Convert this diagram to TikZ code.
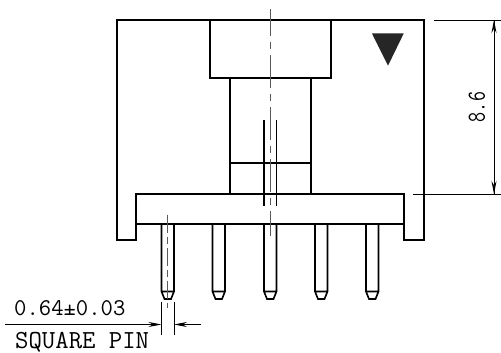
\documentclass[tikz,border=0pt]{standalone}
\usepackage{amsmath}
\usepackage{xcolor}
\usepackage{tikz}
\usetikzlibrary{arrows.meta}
\tikzstyle{body} = [line width=1.8pt,line join=miter]
\tikzstyle{inner} = [line width=1.3pt]
\tikzstyle{pin} = [line width=1.6pt]
\tikzstyle{center} = [line width=1pt,black!65,dash pattern=on 33pt off 6pt on 7pt off 6pt,dash phase=6pt]
\tikzstyle{dim} = [line width=0.9pt]
\tikzstyle{arrow} = [line width=0.9pt,-{Stealth[length=13pt,width=5pt]}]
\tikzstyle{label} = [inner sep=0pt,anchor=base west]

\begin{document}
\begin{tikzpicture}[x=1pt,y=-1pt]
			\useasboundingbox (0,0) rectangle (501,353);
			
			% Housing:
			\draw [body] (136,194) -- (136,240) -- (117,240) -- (117,20) -- (424,20) -- (424,240) -- (404,240) -- (404,194) -- cycle;
			\draw [body] (136,224) -- (404,224);
			
			% Top block and neck:
			\draw [body] (210,20) -- (210,78) -- (331,78) -- (331,20);
			\draw [body] (230,78) -- (230,194);
			\draw [body] (311,78) -- (311,194);
			\draw [inner] (230,163) -- (311,163);
			\draw [body] (264,120) -- (264,206);
			\draw [body] (276.5,120) -- (276.5,206);
			
			% Marker:
			\fill [black!85] (372,33.5) -- (403.7,33.5) -- (388,65.7) -- cycle;
			
			% Pins:
			\draw [pin] (161.5,224) -- (161.5,291.5) -- (164.5,299) -- (171,299) -- (174,291.5) -- (174,224) (161.5,291.5) -- (174,291.5);
			\draw [pin] (212.5,224) -- (212.5,291.5) -- (215.5,299) -- (222,299) -- (225,291.5) -- (225,224) (212.5,291.5) -- (225,291.5);
			\draw [pin] (264,224) -- (264,291.5) -- (267,299) -- (273.5,299) -- (276.5,291.5) -- (276.5,224) (264,291.5) -- (276.5,291.5);
			\draw [pin] (315,224) -- (315,291.5) -- (318,299) -- (324.5,299) -- (327.5,291.5) -- (327.5,224) (315,291.5) -- (327.5,291.5);
			\draw [pin] (366,224) -- (366,291.5) -- (369,299) -- (375.5,299) -- (378.5,291.5) -- (378.5,224) (366,291.5) -- (378.5,291.5);
			
			% Center lines:
			\draw [center] (270.2,9) -- (270.2,236);
			\draw [center,dash pattern=on 18pt off 4pt on 7pt off 4pt,dash phase=0pt] (167.7,214.5) -- (167.7,308);
			
			% Height dimension:
			\coordinate (htop) at (494,20);
			\coordinate (hbottom) at (494,194);
			\draw [dim] (434,20) -- (501,20);
			\draw [dim] (413,194) -- (501,194);
			\draw [arrow] (hbottom) -- (htop);
			\draw [arrow] (htop) -- (hbottom);
			\node (height) [font=\ttfamily\fontsize{26}{26}\selectfont,inner sep=0pt,rotate=90,xscale=0.75] at (477,107) {8.6};
			
			% Pin width dimension:
			\coordinate (pinleft) at (161.5,324.5);
			\coordinate (pinright) at (174,324.5);
			\coordinate (leader) at (5,324.5);
			\coordinate (tail) at (201,324.5);
			\draw [dim] (161.5,302) -- (161.5,335);
			\draw [dim] (174,302) -- (174,335);
			\draw [arrow] (leader) -- (pinleft);
			\draw [arrow] (tail) -- (pinright);
			\node (width) [label,font=\ttfamily\fontsize{24}{24}\selectfont] at (14,315.5) {0.64±0.03};
			\node (pintype) [label,font=\ttfamily\fontsize{26}{26}\selectfont] at (15,348) {SQUARE PIN};
			
\end{tikzpicture}
\end{document}
